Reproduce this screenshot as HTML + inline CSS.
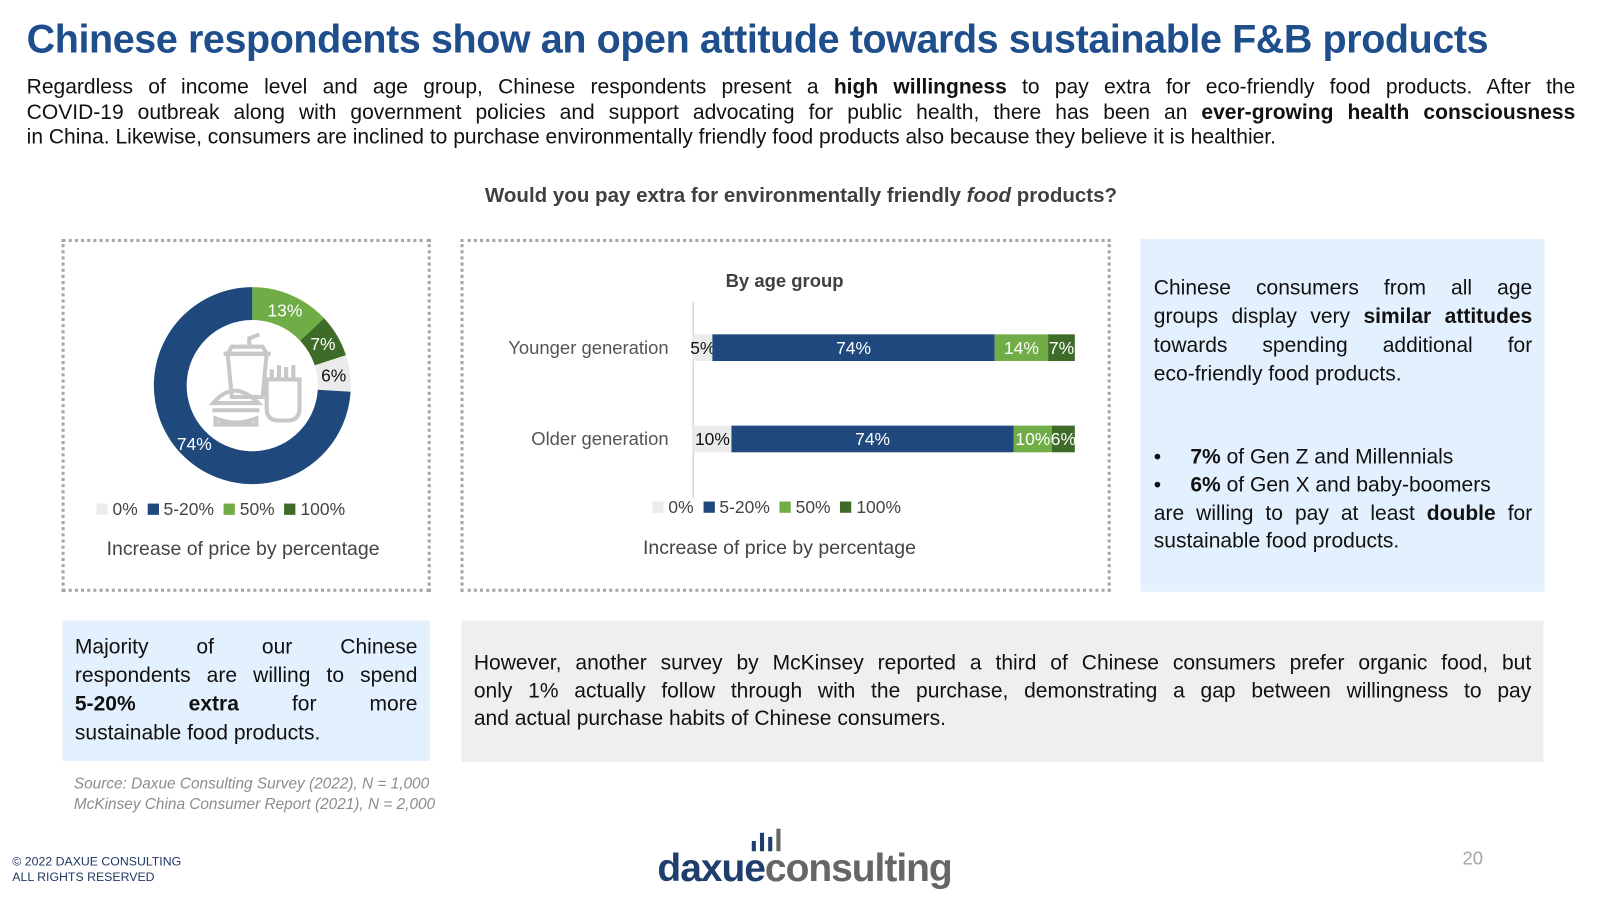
<!DOCTYPE html>
<html><head><meta charset="utf-8">
<style>
body{margin:0;width:1607px;height:900px;background:#fff;position:relative;overflow:hidden;font-family:"Liberation Sans",sans-serif;color:#111}
#wrap{position:absolute;left:0;top:0;width:1567px;height:878px;transform:scale(1.0256);transform-origin:0 0}
.a{position:absolute}
.ln{position:absolute;white-space:nowrap;text-align:justify;text-align-last:justify}
.ll{text-align-last:left}
b{font-weight:bold}
</style></head><body>
<div id="wrap">
<div class="a" style="left:26px;top:17px;font-size:38.5px;font-weight:bold;color:#1f4e8c;letter-spacing:-0.4px;white-space:nowrap">Chinese respondents show an open attitude towards sustainable F&amp;B products</div>
<div style="font-size:20.5px">
<div class="ln" style="left:26px;width:1510px;top:73px">Regardless of income level and age group, Chinese respondents present a <b>high willingness</b> to pay extra for eco-friendly food products. After the</div>
<div class="ln" style="left:26px;width:1510px;top:98px">COVID-19 outbreak along with government policies and support advocating for public health, there has been an <b>ever-growing health consciousness</b></div>
<div class="ln ll" style="left:26px;width:1510px;top:122px">in China. Likewise, consumers are inclined to purchase environmentally friendly food products also because they believe it is healthier.</div>
</div>
<div class="a" style="left:381px;width:800px;text-align:center;top:180px;font-size:20px;font-weight:bold;color:#404040">Would you pay extra for environmentally friendly <i>food</i> products?</div>

<div class="a" style="left:60px;top:233px;width:354px;height:338px;border:3px dotted #a6a6a6"></div>
<div class="a" style="left:449px;top:233px;width:628px;height:338px;border:3px dotted #a6a6a6"></div>

<svg class="a" style="left:0;top:0" width="1567" height="878">
<g id="donut"></g>
<g id="food-icon" stroke="#c8c8c8" stroke-width="4" fill="none">
<path d="M222 345 h38 l-4 42 h-30z"/><path d="M218 345 h46 M226 338 h30 l4 7 h-38z"/><path d="M243 338 v-8 l10 -4"/>
<path d="M208 393 q20 -24 44 0z"/><path d="M207 400 h46 M210 408 q20 8 40 0 v6 h-40z"/>
<path d="M260 370 v28 q0 12 12 12 h8 q12 0 12 -12 v-28z M265 368 v-8 M272 368 v-12 M279 368 v-10 M286 368 v-12"/>
</g>
<g id="bars"></g>
</svg>

<div class="a" style="left:94px;top:487px;font-size:17px;color:#444;white-space:nowrap">
<span style="display:inline-block;width:11px;height:11px;background:#ebebeb"></span> 0% &nbsp;<span style="display:inline-block;width:11px;height:11px;background:#1f497d"></span> 5-20% &nbsp;<span style="display:inline-block;width:11px;height:11px;background:#70ad47"></span> 50% &nbsp;<span style="display:inline-block;width:11px;height:11px;background:#3e6b27"></span> 100%</div>
<div class="a" style="left:60px;width:354px;text-align:center;top:525px;font-size:19px;color:#444">Increase of price by percentage</div>
<div class="a" style="left:660px;width:210px;text-align:center;top:264px;font-size:18px;font-weight:bold;color:#404040">By age group</div>
<div class="a" style="left:636px;top:485px;font-size:17px;color:#444;white-space:nowrap">
<span style="display:inline-block;width:11px;height:11px;background:#ebebeb"></span> 0% &nbsp;<span style="display:inline-block;width:11px;height:11px;background:#1f497d"></span> 5-20% &nbsp;<span style="display:inline-block;width:11px;height:11px;background:#70ad47"></span> 50% &nbsp;<span style="display:inline-block;width:11px;height:11px;background:#3e6b27"></span> 100%</div>
<div class="a" style="left:560px;width:400px;text-align:center;top:524px;font-size:19px;color:#444">Increase of price by percentage</div>

<div class="a" style="left:1112px;top:233px;width:394px;height:344px;background:#e3f0fd;font-size:20.5px">
<div class="ln" style="left:13px;width:369px;top:36px">Chinese consumers from all age</div>
<div class="ln" style="left:13px;width:369px;top:64px">groups display very <b>similar attitudes</b></div>
<div class="ln" style="left:13px;width:369px;top:92px">towards spending additional for</div>
<div class="ln ll" style="left:13px;width:369px;top:120px">eco-friendly food products.</div>
<div class="ln ll" style="left:13px;top:201px">•&nbsp;&nbsp;&nbsp;&nbsp;&nbsp;<b>7%</b> of Gen Z and Millennials</div>
<div class="ln ll" style="left:13px;top:228px">•&nbsp;&nbsp;&nbsp;&nbsp;&nbsp;<b>6%</b> of Gen X and baby-boomers</div>
<div class="ln" style="left:13px;width:369px;top:256px">are willing to pay at least <b>double</b> for</div>
<div class="ln ll" style="left:13px;width:369px;top:283px">sustainable food products.</div>
</div>

<div class="a" style="left:61px;top:605px;width:358px;height:137px;background:#e3f0fd;font-size:20.5px">
<div class="ln" style="left:12px;width:334px;top:14px">Majority of our Chinese</div>
<div class="ln" style="left:12px;width:334px;top:42px">respondents are willing to spend</div>
<div class="ln" style="left:12px;width:334px;top:70px"><b>5-20% extra</b> for more</div>
<div class="ln ll" style="left:12px;width:334px;top:98px">sustainable food products.</div>
</div>

<div class="a" style="left:450px;top:605px;width:1055px;height:138px;background:#efefef;font-size:20.5px">
<div class="ln" style="left:12px;width:1031px;top:30px">However, another survey by McKinsey reported a third of Chinese consumers prefer organic food, but</div>
<div class="ln" style="left:12px;width:1031px;top:57px">only 1% actually follow through with the purchase, demonstrating a gap between willingness to pay</div>
<div class="ln ll" style="left:12px;width:1031px;top:84px">and actual purchase habits of Chinese consumers.</div>
</div>

<div class="a" style="left:72px;top:755px;font-size:15px;font-style:italic;color:#8c8c8c;line-height:20px">Source: Daxue Consulting Survey (2022), N = 1,000<br>McKinsey China Consumer Report (2021), N = 2,000</div>
<div class="a" style="left:12px;top:833px;font-size:12px;color:#1f3864;line-height:15px">© 2022 DAXUE CONSULTING<br>ALL RIGHTS RESERVED</div>
<div class="a" style="left:641px;top:826px;font-size:38px;font-weight:bold;letter-spacing:-1px;white-space:nowrap"><span style="color:#1f3e6e">daxue</span><span style="color:#666">consulting</span></div>
<div class="a" style="left:733px;top:808px;width:34px;height:22px">
<div class="a" style="left:0;top:12px;width:4px;height:10px;background:#1f3e6e"></div><div class="a" style="left:8px;top:4px;width:4px;height:18px;background:#1f3e6e"></div><div class="a" style="left:16px;top:8px;width:4px;height:14px;background:#1f3e6e"></div><div class="a" style="left:24px;top:0;width:4px;height:22px;background:#666"></div></div>
<div class="a" style="left:1426px;top:827px;font-size:18px;color:#a6a6a6">20</div>
</div>
<script>
const donutLabels=["50%","100%","0%","5-20%"];
const donutValues=[13,7,6,74];
const donutColors=["#70ad47","#3e6b27","#ebebeb","#1f497d"];
const donutText=["#fff","#fff","#111","#fff"];
const ageGroups=["Younger generation","Older generation"];
const seriesNames=["0%","5-20%","50%","100%"];
const share0=[5,10];
const share520=[74,74];
const share50=[14,10];
const share100=[7,6];
const NS="http://www.w3.org/2000/svg";
function mk(t,a,p){const e=document.createElementNS(NS,t);for(const k in a)e.setAttribute(k,a[k]);p.appendChild(e);return e;}
const cx=246,cy=376,R=96,r=64,dg=document.getElementById('donut');
const tot=donutValues.reduce((s,v)=>s+v,0);
let acc=0;
function pt(f,rad){const a=f*2*Math.PI-Math.PI/2;return [cx+rad*Math.cos(a),cy+rad*Math.sin(a)];}
donutValues.forEach((v,i)=>{
 const f0=acc/tot,f1=(acc+v)/tot;acc+=v;
 const [x0,y0]=pt(f0,R),[x1,y1]=pt(f1,R),[x2,y2]=pt(f1,r),[x3,y3]=pt(f0,r);
 const lg=(f1-f0)>0.5?1:0;
 const p=mk('path',{d:`M${x0} ${y0} A${R} ${R} 0 ${lg} 1 ${x1} ${y1} L${x2} ${y2} A${r} ${r} 0 ${lg} 0 ${x3} ${y3}Z`,fill:donutColors[i]},dg);
 
 
 const fm=(f0+f1)/2;let lp=pt(fm,(R+r)/2);
 if(v>50)lp=pt(0.625,(R+r)/2);
 const t=mk('text',{x:lp[0],y:lp[1]+6,'text-anchor':'middle','font-size':17,fill:donutText[i],'font-family':'Liberation Sans, sans-serif'},dg);
 t.textContent=v+'%';
 
 
});
const bg=document.getElementById('bars');
const x0=676,x1=1048,xs=v=>x0+(x1-x0)*v/100;
const rows=[326,415],bh=26;
const ser=[share0,share520,share50,share100];
mk('line',{x1:x0,y1:294,x2:x0,y2:486,stroke:'#d9d9d9','stroke-width':1.5},bg);
ageGroups.forEach((g,j)=>{
 const y=rows[j];
 const lt=mk('text',{x:652,y:y+bh/2+6,'text-anchor':'end','font-size':18,fill:'#555','font-family':'Liberation Sans, sans-serif'},bg);
 lt.textContent=g;
 
 
 let a=0;
 ser.forEach((s,i)=>{
  const v=s[j];
  const rc=mk('rect',{x:xs(a),y:y,width:xs(a+v)-xs(a),height:bh,fill:donutColors[[2,3,0,1][i]]},bg);
  
  
  const t=mk('text',{x:(xs(a)+xs(a+v))/2,y:y+bh/2+6,'text-anchor':'middle','font-size':17,fill:i==0?'#111':'#fff','font-family':'Liberation Sans, sans-serif'},bg);
  t.textContent=v+'%';
  
  
  a+=v;
 });
});
</script>
</body></html>
